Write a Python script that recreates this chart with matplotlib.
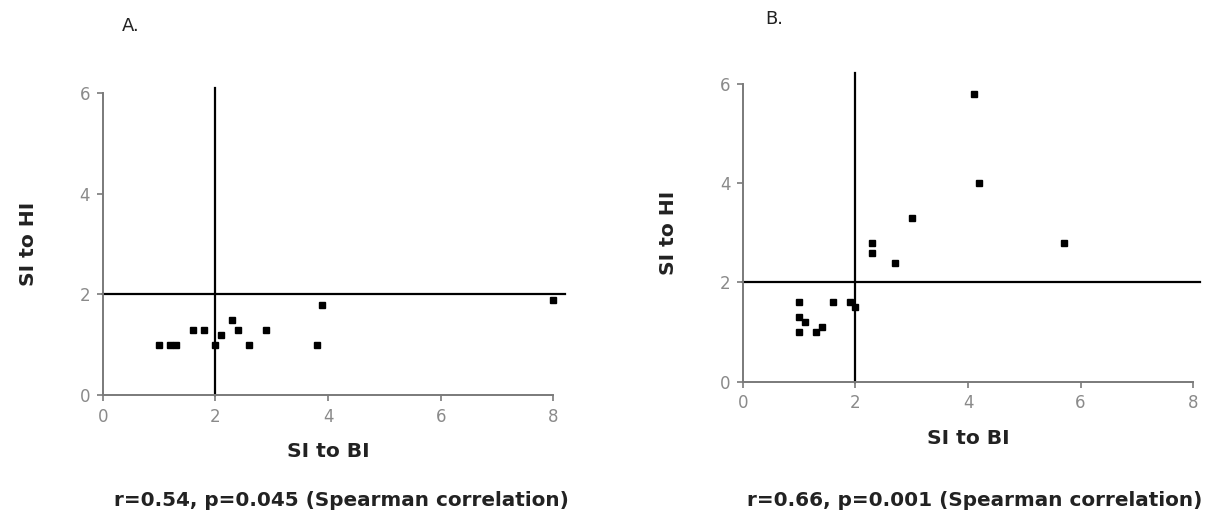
import matplotlib
matplotlib.use("Agg")
import matplotlib.pyplot as plt

plt.rcParams["font.family"] = ["DejaVu Sans"]

# -----------------------------
# DATA
# -----------------------------

# Panel A
a_si_bi = [1.0, 1.2, 1.3, 1.6, 1.8, 2.0, 2.1, 2.3, 2.4, 2.6, 2.9, 3.8, 3.9, 8.0]
a_si_hi = [1.0, 1.0, 1.0, 1.3, 1.3, 1.0, 1.2, 1.5, 1.3, 1.0, 1.3, 1.0, 1.8, 1.9]

# Panel B
b_si_bi = [1.0, 1.0, 1.1, 1.0, 1.3, 1.4, 1.6, 1.9, 2.0, 2.3, 2.3, 2.7, 3.0, 4.1, 4.2, 5.7]
b_si_hi = [1.6, 1.3, 1.2, 1.0, 1.0, 1.1, 1.6, 1.6, 1.5, 2.8, 2.6, 2.4, 3.3, 5.8, 4.0, 2.8]

cutoff = 2
ticks = [0, 2, 4, 6, 8]
yticks = [0, 2, 4, 6]

panel_labels = ["A.", "B."]
stats_text = [
    "r=0.54, p=0.045 (Spearman correlation)",
    "r=0.66, p=0.001 (Spearman correlation)",
]

# -----------------------------
# FIGURE
# -----------------------------

fig = plt.figure(figsize=(12.18, 5.24), dpi=100)

ax_a = fig.add_axes([0.0843, 0.246, 0.370, 0.576])
ax_b = fig.add_axes([0.610, 0.2716, 0.3695, 0.568])

panels = [
    (ax_a, a_si_bi, a_si_hi, 8.2, 6.1),
    (ax_b, b_si_bi, b_si_hi, 8.12, 6.22),
]

for ax, xs, ys, hline_end, vline_end in panels:
    ax.set_xlim(0, 8)
    ax.set_ylim(0, 6)
    ax.plot(xs, ys, "s", color="black", markersize=4.2, zorder=3, clip_on=False)
    # cutoff lines
    ax.plot([0, hline_end], [cutoff, cutoff], color="black", lw=1.6, clip_on=False, zorder=2)
    ax.plot([cutoff, cutoff], [0, vline_end], color="black", lw=1.6, clip_on=False, zorder=2)

    for side in ["top", "right"]:
        ax.spines[side].set_visible(False)
    for side in ["left", "bottom"]:
        ax.spines[side].set_color("#7a7a7a")
        ax.spines[side].set_linewidth(1.4)

    ax.set_xticks(ticks)
    ax.set_yticks(yticks)
    ax.tick_params(colors="#7a7a7a", labelcolor="#8a8a8a", labelsize=12,
                   length=4, width=1.2, direction="out", pad=5)
    ax.set_xlabel("SI to BI", fontsize=14.6, fontweight="bold", labelpad=12, color="#222222")
    ax.set_ylabel("SI to HI", fontsize=14.6, fontweight="bold", labelpad=30, color="#222222")

fig.text(122 / 1218, 1 - 26 / 524, panel_labels[0], fontsize=13, ha="left", va="center", color="#222222")
fig.text(765 / 1218, 1 - 19 / 524, panel_labels[1], fontsize=13, ha="left", va="center", color="#222222")

fig.text(341 / 1218, 1 - 500 / 524, stats_text[0], fontsize=14.4, fontweight="bold",
         ha="center", va="center", color="#222222")
fig.text(975 / 1218, 1 - 500 / 524, stats_text[1], fontsize=14.4, fontweight="bold",
         ha="center", va="center", color="#222222")

plt.savefig("out.png", dpi=100)
